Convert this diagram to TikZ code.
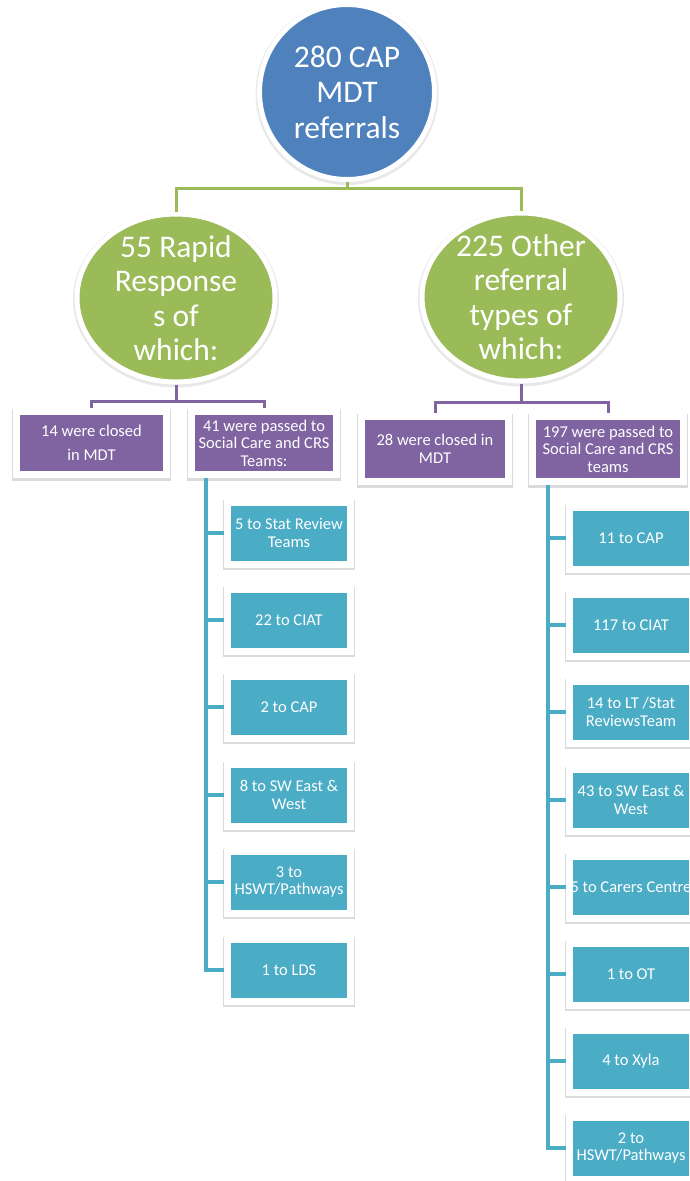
\documentclass[tikz,border=0pt]{standalone}
\usepackage{fontspec}
\setmainfont{Carlito}
\usetikzlibrary{shapes.geometric}
\definecolor{capblue}{HTML}{4F81BD}
\definecolor{capgreen}{HTML}{9BBB59}
\definecolor{cappurple}{HTML}{8064A2}
\definecolor{capaqua}{HTML}{4BACC6}
\tikzset{
  rootcircle/.style={circle,fill=capblue,draw=white,line width=5pt,minimum size=175pt,
    align=center,text=white,font=\fontsize{31.5}{35.5}\selectfont,
    preaction={draw=black!9,line width=8pt,transform canvas={yshift=-1.5pt}}},
  typecircle/.style={ellipse,fill=capgreen,draw=white,line width=5pt,
    minimum width=198pt,minimum height=168pt,inner xsep=0pt,inner ysep=-12pt,
    align=center,text=white,font=\fontsize{31.5}{34.5}\selectfont,
    preaction={draw=black!9,line width=8pt,transform canvas={yshift=-1.5pt}}},
  outcomebox/.style={rectangle,fill=cappurple,draw=white,line width=7pt,inner sep=2pt,
    align=center,text=white,font=\fontsize{16.5}{17.5}\selectfont,
    preaction={draw=black!14,line width=8.5pt,transform canvas={yshift=-2pt}}},
  teambox/.style={outcomebox,fill=capaqua,minimum width=123pt,minimum height=62pt},
  greenlink/.style={draw=capgreen,line width=3pt},
  purplelink/.style={draw=cappurple,line width=3pt},
  aqualink/.style={draw=capaqua,line width=3.5pt}
}

\begin{document}
\begin{tikzpicture}[x=1pt,y=-1pt]

    % Page size of the chart
    \useasboundingbox (0,0) rectangle (690,1181);

    % Column centres of the two team lists
    \def\xleft{289}    % Rapid Response teams
    \def\xright{631}   % Other referral teams

    % -- Top of the tree --
    \node[rootcircle] (root) at (347,92) {280 CAP\\MDT\\referrals};

    % -- Referral types --
    \node[typecircle] (rapid) at (176,298) {55 Rapid\\Response\\s of\\which:};
    \node[typecircle] (other) at (521,297) {225 Other\\referral\\types of\\which:};

    % -- Outcomes --
    \node[outcomebox,minimum width=150pt,minimum height=63pt] (closedA) at (91.5,443)
      {14 were closed\\[6pt]in MDT};
    \node[outcomebox,minimum width=145pt,minimum height=63pt] (passA) at (264,443)
      {41 were passed to\\Social Care and CRS\\Teams:};
    \node[outcomebox,minimum width=147pt,minimum height=65pt] (closedB) at (435,449)
      {28 were closed in\\MDT};
    \node[outcomebox,minimum width=151pt,minimum height=65pt] (passB) at (608,449)
      {197 were passed to\\Social Care and CRS\\teams};

    % -- Teams reached by the Rapid Responses --
    \node[teambox] (ra1) at (\xleft,533) {5 to Stat Review\\Teams};
    \node[teambox] (ra2) at (\xleft,620) {22 to CIAT};
    \node[teambox] (ra3) at (\xleft,707) {2 to CAP};
    \node[teambox] (ra4) at (\xleft,795) {8 to SW East \&\\West};
    \node[teambox] (ra5) at (\xleft,882) {3 to\\HSWT/Pathways};
    \node[teambox] (ra6) at (\xleft,970) {1 to LDS};

    % -- Teams reached by the other referrals --
    \node[teambox] (ot1) at (\xright,538) {11 to CAP};
    \node[teambox] (ot2) at (\xright,625) {117 to CIAT};
    \node[teambox] (ot3) at (\xright,712) {14 to LT /Stat\\ReviewsTeam};
    \node[teambox] (ot4) at (\xright,800) {43 to SW East \&\\West};
    \node[teambox,path picture={\node[text=white] at (path picture bounding box.center)
      {5 to Carers Centre};}] (ot5) at (\xright,887) {};
    \node[teambox] (ot6) at (\xright,974) {1 to OT};
    \node[teambox] (ot7) at (\xright,1061) {4 to Xyla};
    \node[teambox] (ot8) at (\xright,1148) {2 to\\HSWT/Pathways};

    % -- Green links from the root --
    \draw[greenlink] (root.south) -- ++(0,6) -| (rapid.north);
    \draw[greenlink] (root.south) -- ++(0,6) -| (other.north);

    % -- Purple links to the outcomes --
    \draw[purplelink] (rapid.south) -- ++(0,17) -| (closedA.north);
    \draw[purplelink] (rapid.south) -- ++(0,17) -| (passA.north);
    \draw[purplelink] (other.south) -- ++(0,19) -| (closedB.north);
    \draw[purplelink] (other.south) -- ++(0,19) -| (passB.north);

    % -- Aqua links down the team lists --
    \draw[aqualink] ([xshift=18pt]passA.south west) |- (ra1.west);
    \draw[aqualink] ([xshift=18pt]passA.south west) |- (ra2.west);
    \draw[aqualink] ([xshift=18pt]passA.south west) |- (ra3.west);
    \draw[aqualink] ([xshift=18pt]passA.south west) |- (ra4.west);
    \draw[aqualink] ([xshift=18pt]passA.south west) |- (ra5.west);
    \draw[aqualink] ([xshift=18pt]passA.south west) |- (ra6.west);

    \draw[aqualink] ([xshift=19pt]passB.south west) |- (ot1.west);
    \draw[aqualink] ([xshift=19pt]passB.south west) |- (ot2.west);
    \draw[aqualink] ([xshift=19pt]passB.south west) |- (ot3.west);
    \draw[aqualink] ([xshift=19pt]passB.south west) |- (ot4.west);
    \draw[aqualink] ([xshift=19pt]passB.south west) |- (ot5.west);
    \draw[aqualink] ([xshift=19pt]passB.south west) |- (ot6.west);
    \draw[aqualink] ([xshift=19pt]passB.south west) |- (ot7.west);
    \draw[aqualink] ([xshift=19pt]passB.south west) |- (ot8.west);

\end{tikzpicture}
\end{document}
